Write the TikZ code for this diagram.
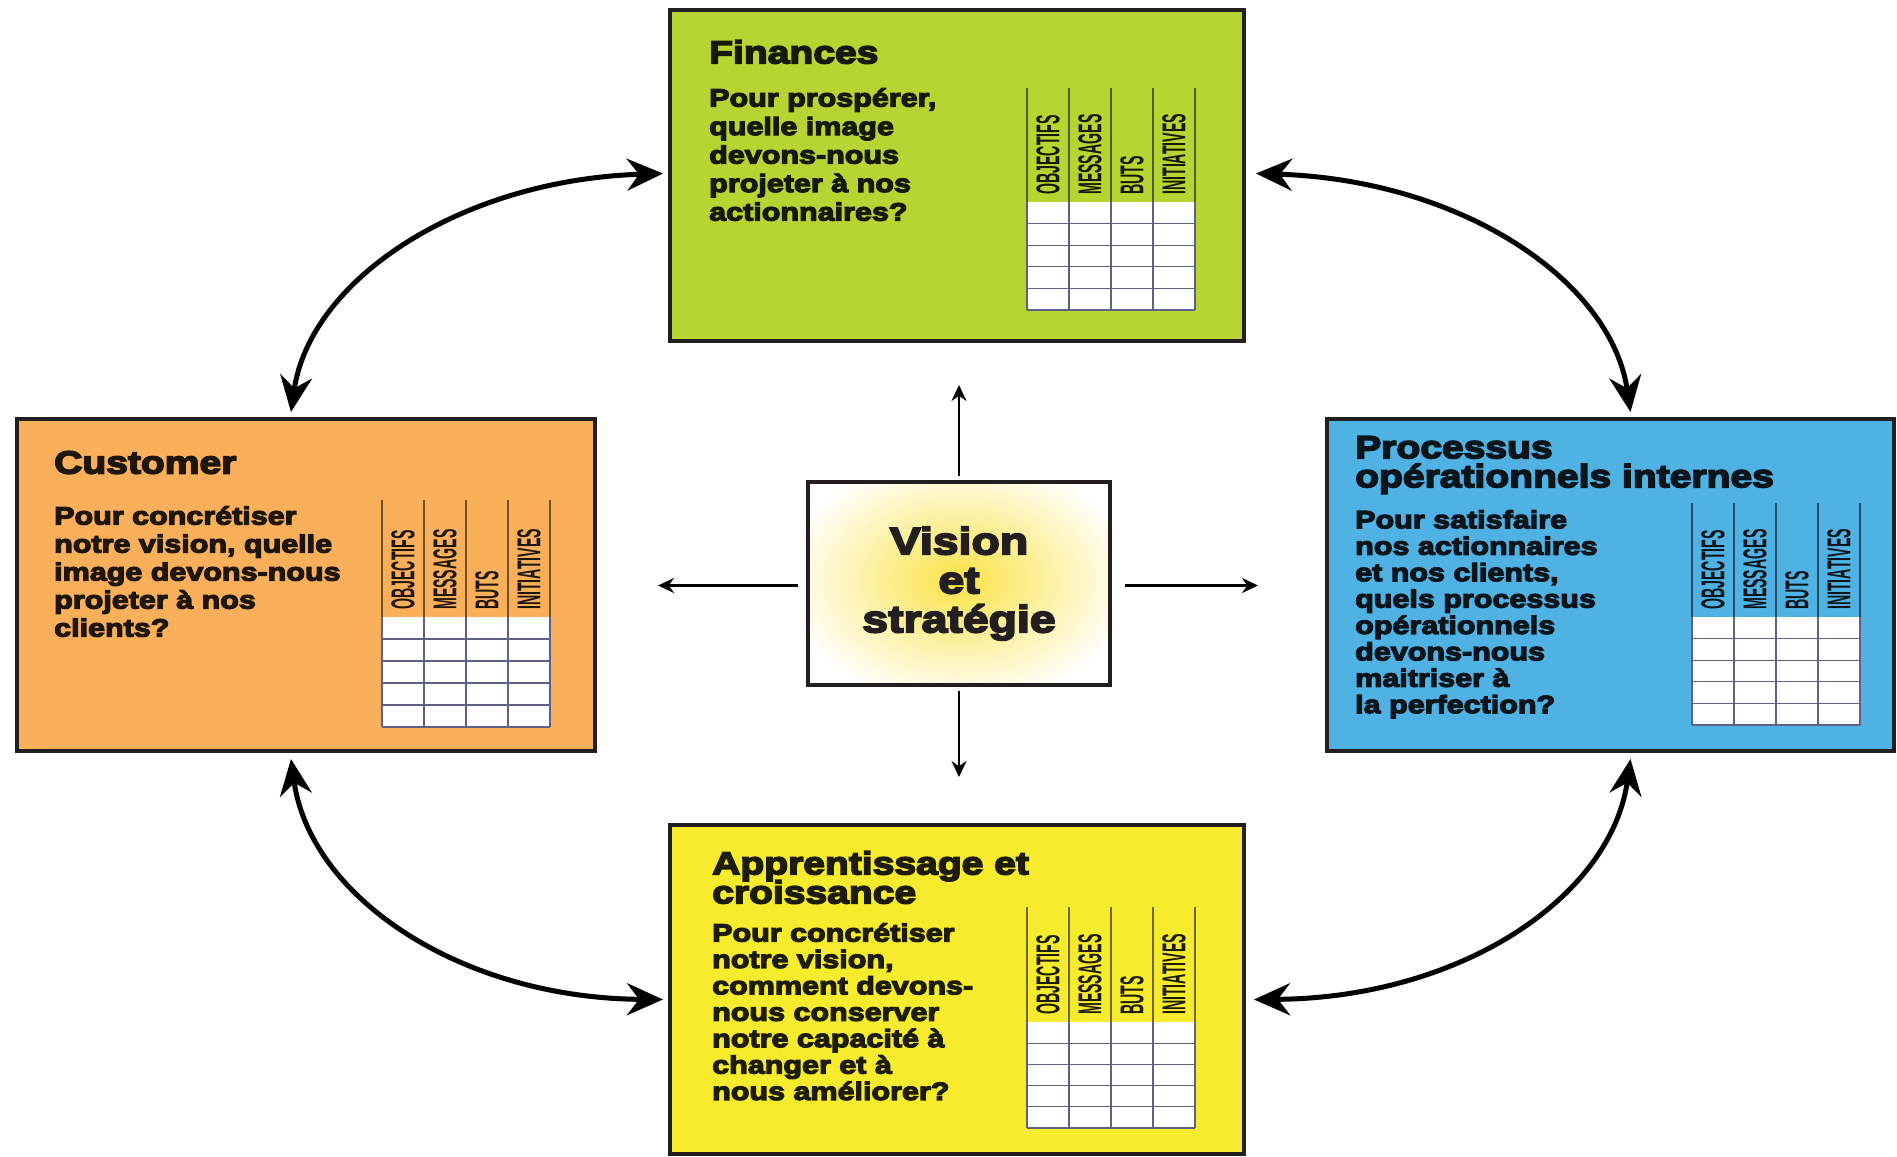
\documentclass[tikz,border=0pt]{standalone}
\usepackage{fontspec}
\usetikzlibrary{arrows.meta}
\newfontfamily\hv{Liberation Sans Bold}[FakeStretch=1.22,FakeBold=5]
\newfontfamily\cnd{Liberation Sans Bold}[FakeStretch=0.43]
\definecolor{fin}{RGB}{183,212,51}
\definecolor{cus}{RGB}{250,176,90}
\definecolor{pro}{RGB}{80,178,226}
\definecolor{app}{RGB}{246,235,45}
\definecolor{cyel}{RGB}{250,226,70}
\definecolor{brd}{RGB}{35,31,32}
\definecolor{gridc}{RGB}{95,95,135}
\tikzset{
  box/.style={draw=brd, line width=3.5pt, inner sep=0pt, outer sep=0pt},
  ttl/.style={anchor=north west, inner sep=0pt, align=left, font=\hv\fontsize{32}{29}\selectfont},
  bdy/.style={anchor=north west, inner sep=0pt, align=left, font=\hv\fontsize{25}{#1}\selectfont},
  hdr/.style={rotate=90, anchor=west, inner sep=0pt, font=\cnd\fontsize{33}{33}\selectfont},
  gridline/.style={draw=gridc, line width=1.3pt},
  bigarrow/.style={line width=5pt, {Stealth[length=36pt,width=32pt,inset=12pt]}-{Stealth[length=36pt,width=32pt,inset=12pt]}},
  smallarrow/.style={line width=2.6pt, -{Stealth[length=16pt,width=15pt]}}
}
\newcommand\bsctab[7]{% #1 name, #2 x0, #3 ytop, #4 ywhite, #5 ybot, #6 header colour, #7 text colour
  \fill[white] (#2,#4) rectangle ({#2+168},#5);
  \foreach \i in {1,...,5} \draw[gridline] (#2,{#4+\i*(#5-#4)/5}) -- ({#2+168},{#4+\i*(#5-#4)/5});
  \foreach \i in {0,...,4} \draw[gridline] ({#2+\i*42},#4) -- ({#2+\i*42},#5);
  \foreach \i in {0,...,4} \draw[draw=#6, line width=1.5pt] ({#2+\i*42},#3) -- ({#2+\i*42},#4);
  \foreach \t [count=\i] in {OBJECTIFS,MESSAGES,BUTS,INITIATIVES}
    \node[hdr, text=#7] (#1-\i) at ({#2+\i*42-21},{#4-7}) {\t};
}
\lineskiplimit=-100pt
\lineskip=0pt
\begin{document}
\begin{tikzpicture}[x=1pt,y=-1pt]
\useasboundingbox (0,0) rectangle (1897,1156);
\fill[white] (0,0) rectangle (1897,1156);

% boxes
\node[box, fill=fin, minimum width=574pt, minimum height=331pt] (fin) at (957,175.5) {};
\node[box, fill=cus, minimum width=578pt, minimum height=332pt] (cust) at (306,585) {};
\node[box, fill=pro, minimum width=567pt, minimum height=332pt] (proc) at (1610.5,585) {};
\node[box, fill=app, minimum width=574pt, minimum height=329pt] (app) at (957,989.5) {};

% centre
\begin{scope}
  \clip (808,482) rectangle (1110,685);
  \shade[inner color=cyel, outer color=white] (959,580) ellipse [x radius=175pt, y radius=125pt];
\end{scope}
\node[box, minimum width=302pt, minimum height=203pt, align=center,
      font=\hv\fontsize{38}{39}\selectfont, text=brd] (vis) at (959,583.5)
      {Vision\\et\\stratégie};

% texts
\node[ttl, text=fin!12!black] (fin-t) at (709,40) {Finances};
\node[bdy=28.5, text=fin!12!black] (fin-b) at (709,88) {Pour prospérer,\\quelle image\\devons-nous\\projeter à nos\\actionnaires?};

\node[ttl, text=cus!12!black] (cust-t) at (54,451) {Customer};
\node[bdy=28, text=cus!12!black] (cust-b) at (54,506) {Pour concrétiser\\notre vision, quelle\\image devons-nous\\projeter à nos\\clients?};

\node[ttl, text=pro!12!black] (proc-t) at (1355,436) {Processus\\opérationnels internes};
\node[bdy=26.4, text=pro!12!black] (proc-b) at (1355,510) {Pour satisfaire\\nos actionnaires\\et nos clients,\\quels processus\\opérationnels\\devons-nous\\maitriser à\\la perfection?};

\node[ttl, text=app!12!black] (app-t) at (712,851) {Apprentissage et\\croissance};
\node[bdy=26.4, text=app!12!black] (app-b) at (712,923) {Pour concrétiser\\notre vision,\\comment devons-\\nous conserver\\notre capacité à\\changer et à\\nous améliorer?};

% tables
\bsctab{fintab}{1027}{88}{202}{310}{fin!45!black}{fin!12!black}
\bsctab{custab}{382}{500}{617}{727}{cus!45!black}{cus!12!black}
\bsctab{protab}{1692}{503}{617}{725}{pro!45!black}{pro!12!black}
\bsctab{apptab}{1027}{907}{1022}{1128}{app!45!black}{app!12!black}

% curved double arrows
\draw[bigarrow] ([shift={(-15,-7)}]cust.north) .. controls (310,280) and (460,180) .. ([shift={(-7,-2)}]fin.west);
\draw[bigarrow] ([shift={(12,-2)}]fin.east) .. controls (1461,180) and (1611,280) .. ([shift={(20,-7)}]proc.north);
\draw[bigarrow] ([shift={(-15,8)}]cust.south) .. controls (310,897) and (460,998) .. ([shift={(-7,10)}]app.west);
\draw[bigarrow] ([shift={(20,8)}]proc.south) .. controls (1611,897) and (1461,998) .. ([shift={(10,10)}]app.east);

% straight arrows from centre
\coordinate (tN) at (959,385);
\coordinate (tS) at (959,777);
\coordinate (tW) at (658,585.5);
\coordinate (tE) at (1258,585.5);
\draw[smallarrow] ([shift={(0,-6)}]vis.north) -- (tN);
\draw[smallarrow] ([shift={(0,6)}]vis.south) -- (tS);
\draw[smallarrow] ([shift={(-10,2)}]vis.west) -- (tW);
\draw[smallarrow] ([shift={(15,2)}]vis.east) -- (tE);
\end{tikzpicture}
\end{document}
